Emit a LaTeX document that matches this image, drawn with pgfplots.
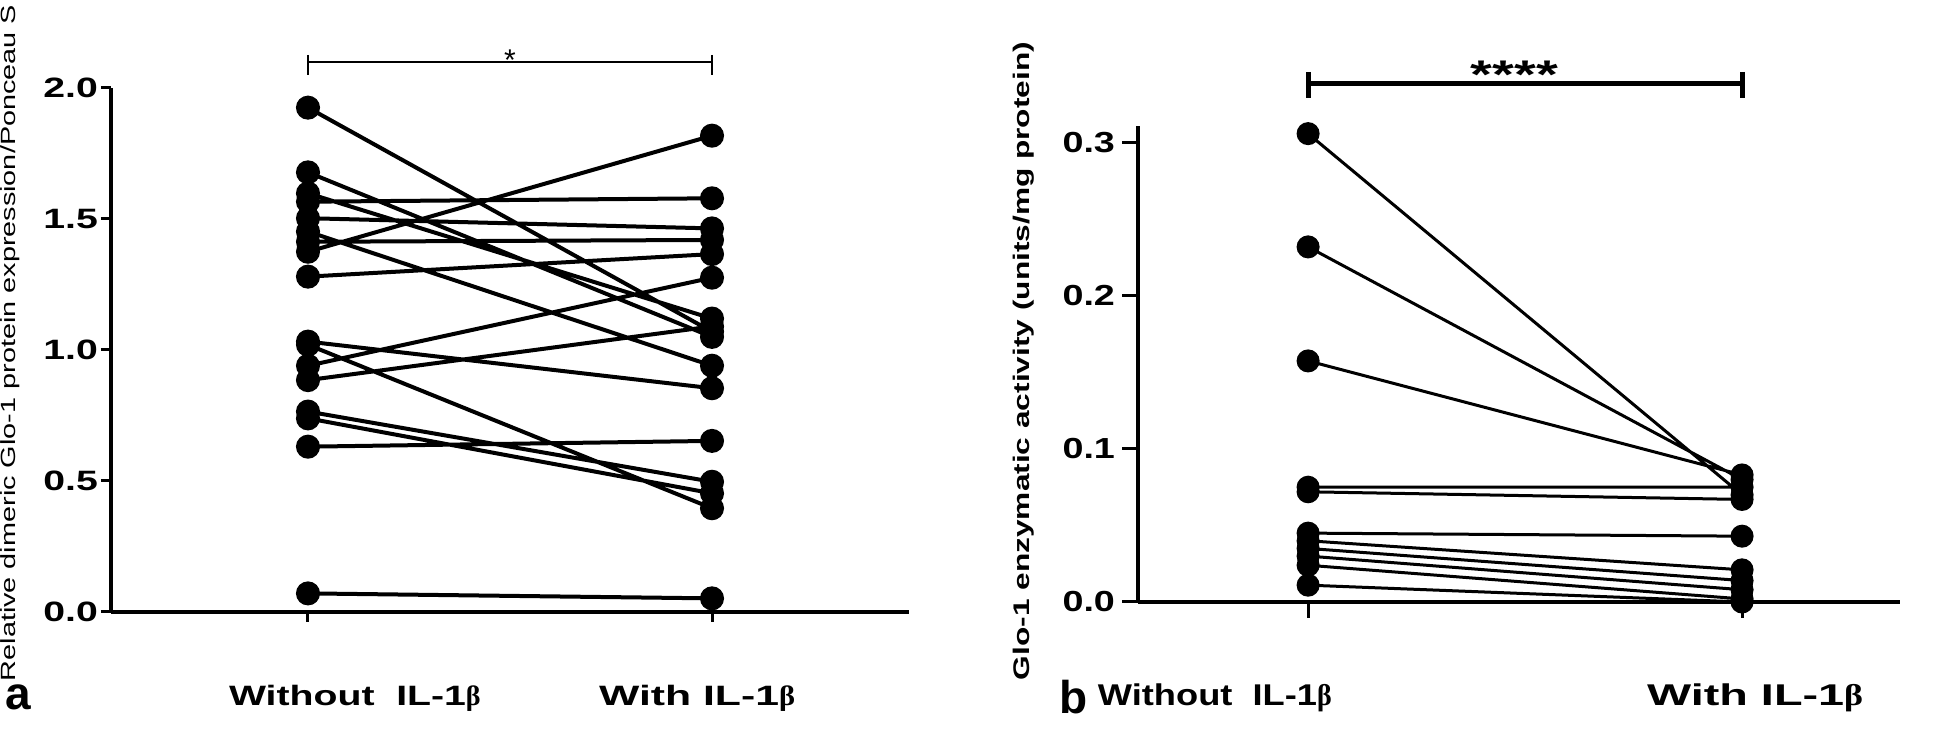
\documentclass[border=0pt]{standalone}
\usepackage{graphicx}
\usepackage{pgfplots}
\pgfplotsset{compat=1.18}
\usepackage{pgfplotstable}
\usepackage{fontspec}
\setmainfont{Liberation Sans}
\newfontfamily\wfont{Liberation Sans}[FakeStretch=1.4]
\newfontfamily\wfontb{Liberation Sans}[FakeStretch=1.3]
\newfontfamily\betafont{Liberation Serif}
\newcommand{\B}{{\betafont β}}

% panel a: paired values (x=0 without, x=1 with), pairs separated by nan rows
\pgfplotstableread{
x y
0 1.925
1 1.07
0 nan
0 1.678
1 1.05
0 nan
0 1.598
1 1.12
0 nan
0 1.566
1 1.579
0 nan
0 1.503
1 1.464
0 nan
0 1.452
1 0.94
0 nan
0 1.413
1 1.42
0 nan
0 1.375
1 1.818
0 nan
0 1.28
1 1.366
0 nan
0 1.032
1 0.854
0 nan
0 1.02
1 0.396
0 nan
0 0.94
1 1.276
0 nan
0 0.885
1 1.09
0 nan
0 0.765
1 0.497
0 nan
0 0.739
1 0.453
0 nan
0 0.631
1 0.653
0 nan
0 0.071
1 0.052
}\dataA

% panel b
\pgfplotstableread{
x y
0 0.306
1 0.070
0 nan
0 0.232
1 0.080
0 nan
0 0.1575
1 0.083
0 nan
0 0.075
1 0.075
0 nan
0 0.072
1 0.067
0 nan
0 0.045
1 0.043
0 nan
0 0.040
1 0.021
0 nan
0 0.035
1 0.014
0 nan
0 0.030
1 0.008
0 nan
0 0.024
1 0.002
0 nan
0 0.011
1 0.000
}\dataB

\begin{document}
\begin{tikzpicture}
\useasboundingbox (0,0) rectangle (973pt,365.5pt);

% ---------------- panel a
\begin{axis}[
  at={(55.5pt,59.5pt)}, anchor=south west,
  scale only axis, width=399pt, height=262pt,
  xmin=-0.4876, xmax=1.4876, ymin=0, ymax=2,
  axis x line=bottom, axis y line=left,
  axis line style={line width=1.7pt, -},
  tick align=outside, major tick length=5pt,
  tick style={line width=1.5pt, black},
  ytick={0,0.5,1,1.5,2},
  /pgf/number format/assume math mode=true,
  yticklabel style={font=\wfont\bfseries\fontsize{14}{15}\selectfont, xshift=2pt,
    /pgf/number format/fixed, /pgf/number format/fixed zerofill,
    /pgf/number format/precision=1},
  xtick={0,1}, xticklabels={{},{}},
  extra x ticks={0.116,0.963},
  extra x tick labels={Without\ \ IL-1\B, \scalebox{1.09}[1]{With IL-1\B}},
  extra x tick style={major tick length=0pt},
  xticklabel style={anchor=center, yshift=-43pt,
    font=\wfont\bfseries\fontsize{14}{15}\selectfont},
  clip=false,
]
\addplot[black, line width=2pt, mark=*, mark size=5pt, unbounded coords=jump]
  table[x=x, y=y] {\dataA};
\draw[line width=1pt] (axis cs:0,2.126) -- (axis cs:0,2.05);
\draw[line width=1pt] (axis cs:1,2.126) -- (axis cs:1,2.05);
\draw[line width=1pt] (axis cs:0,2.099) -- (axis cs:1,2.099);
\node[anchor=base, font=\fontsize{15}{16}\selectfont] at (axis cs:0.5,2.065) {*};
\end{axis}

% ---------------- panel b
\begin{axis}[
  at={(569pt,64.5pt)}, anchor=south west,
  scale only axis, width=381pt, height=238pt,
  xmin=-0.392, xmax=1.364, ymin=0, ymax=0.311,
  axis x line=bottom, axis y line=left,
  axis line style={line width=2pt, -},
  tick align=outside, major tick length=8pt,
  tick style={line width=1.5pt, black},
  ytick={0,0.1,0.2,0.3},
  /pgf/number format/assume math mode=true,
  yticklabel style={font=\wfontb\bfseries\fontsize{14.5}{15}\selectfont,
    /pgf/number format/fixed, /pgf/number format/fixed zerofill,
    /pgf/number format/precision=1},
  xtick={0,1}, xticklabels={{},{}},
  extra x ticks={-0.215,1.03},
  extra x tick labels={\scalebox{0.93}[1]{Without\ \ IL-1\B}, \scalebox{1.2}[1]{With IL-1\B}},
  extra x tick style={major tick length=0pt},
  xticklabel style={anchor=center, yshift=-48pt,
    font=\wfontb\bfseries\fontsize{15}{16}\selectfont},
  clip=false,
]
\addplot[black, line width=1.5pt, mark=*, mark size=5pt, unbounded coords=jump]
  table[x=x, y=y] {\dataB};
\draw[line width=2.5pt] (axis cs:0,0.3464) -- (axis cs:0,0.3294);
\draw[line width=2.5pt] (axis cs:1,0.3464) -- (axis cs:1,0.3294);
\draw[line width=2.5pt] (axis cs:0,0.3386) -- (axis cs:1,0.3386);
\node[anchor=base, font=\wfont\bfseries\fontsize{20}{21}\selectfont] at (axis cs:0.475,0.3353) {****};
\end{axis}

% axis titles and panel letters
\node[rotate=90, font=\wfont\fontsize{10.3}{11}\selectfont] at (5pt,194pt)
  {Relative dimeric Glo-1 protein expression/Ponceau S};
\node[rotate=90, font=\wfont\bfseries\fontsize{11.3}{12}\selectfont] at (512pt,185pt)
  {Glo-1 enzymatic activity (units/mg protein)};
\node[font=\bfseries\fontsize{23}{24}\selectfont] at (9pt,17pt) {a};
\node[font=\bfseries\fontsize{23}{24}\selectfont] at (537pt,17pt) {b};
\end{tikzpicture}
\end{document}
